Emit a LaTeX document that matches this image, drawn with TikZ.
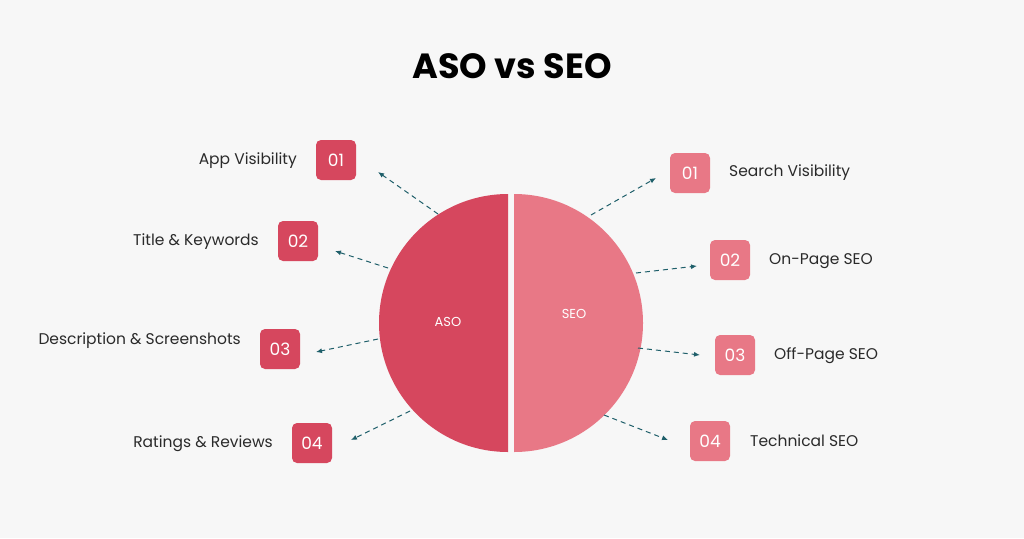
\documentclass[tikz,border=0pt]{standalone}
\usepackage{fontspec}
\setmainfont{Poppins}
\usetikzlibrary{arrows.meta}
\definecolor{bg}{HTML}{F7F7F7}
\definecolor{dred}{HTML}{D6475E}
\definecolor{lred}{HTML}{E87886}
\definecolor{teal}{HTML}{1F5F6A}
\definecolor{txt}{HTML}{2A2A2A}
\begin{document}
\begin{tikzpicture}[x=1pt,y=-1pt,
 badge/.style={rounded corners=5pt,minimum width=40pt,minimum height=40pt,text=white,font=\fontsize{17}{17}\selectfont,inner sep=0pt},
 lab/.style={text=txt,font=\fontsize{15.5}{16}\selectfont,inner sep=0pt},
 arr/.style={teal,dashed,dash pattern=on 5pt off 4pt,line width=1pt,-{Latex[length=6pt,width=5pt]}}]
\fill[bg] (0,0) rectangle (1024,538);
\useasboundingbox (0,0) rectangle (1024,538);
\node[font=\bfseries\fontsize{35}{35}\selectfont,text=black] (title) at (512,66) {ASO vs SEO};
\fill[dred] (508,194) arc[start angle=-90,end angle=-270,radius=129] -- cycle;
\fill[lred] (514,194) arc[start angle=-90,end angle=90,radius=129] -- cycle;
\node[text=white,font=\fontsize{13}{13}\selectfont] (aso) at (448,322) {ASO};
\node[text=white,font=\fontsize{13}{13}\selectfont] (seo) at (574,314) {SEO};
% left badges
\node[badge,fill=dred] (l1) at (336,160) {01};
\node[badge,fill=dred] (l2) at (298,241) {02};
\node[badge,fill=dred] (l3) at (280,349) {03};
\node[badge,fill=dred] (l4) at (312,443) {04};
\node[lab,anchor=east] (tl1) at (297,161) {App Visibility};
\node[lab,anchor=east] (tl2) at (259,242) {Title \& Keywords};
\node[lab,anchor=east] (tl3) at (241,341) {Description \& Screenshots};
\node[lab,anchor=east] (tl4) at (273,444) {Ratings \& Reviews};
% right badges
\node[badge,fill=lred] (r1) at (690,173) {01};
\node[badge,fill=lred] (r2) at (730,260) {02};
\node[badge,fill=lred] (r3) at (735,355) {03};
\node[badge,fill=lred] (r4) at (710,441) {04};
\node[lab,anchor=west] (tr1) at (729,173) {Search Visibility};
\node[lab,anchor=west] (tr2) at (769,261) {On-Page SEO};
\node[lab,anchor=west] (tr3) at (774,356) {Off-Page SEO};
\node[lab,anchor=west] (tr4) at (750,441) {Technical SEO};
% arrows
\coordinate (a1s) at (438,214); \coordinate (a1e) at (378,172);
\coordinate (a2s) at (388,268); \coordinate (a2e) at (335,251);
\coordinate (a3s) at (378,339); \coordinate (a3e) at (316,352);
\coordinate (a4s) at (410,411); \coordinate (a4e) at (351,440);
\coordinate (b1s) at (591,215); \coordinate (b1e) at (656,178);
\coordinate (b2s) at (636,273); \coordinate (b2e) at (697,266);
\coordinate (b3s) at (638,348); \coordinate (b3e) at (700,355);
\coordinate (b4s) at (604,415); \coordinate (b4e) at (668,440);
\foreach \p in {a1,a2,a3,a4,b1,b2,b3,b4}{\draw[arr] (\p s) -- (\p e);}
\end{tikzpicture}
\end{document}
